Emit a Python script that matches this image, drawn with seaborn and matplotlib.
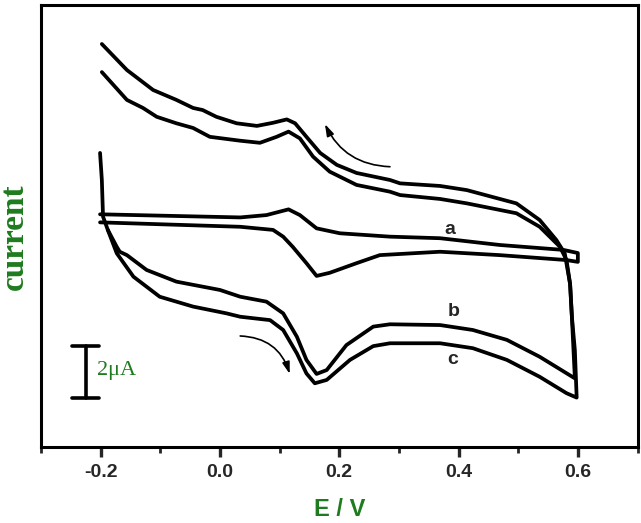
import numpy as np
import pandas as pd
import matplotlib
matplotlib.use("Agg")
import matplotlib.pyplot as plt
import seaborn as sns

# potential (V) and current (uA), one closed loop per curve
a_E = [-0.201, 0.034, 0.078, 0.115, 0.134, 0.162, 0.201, 0.285, 0.369, 0.469, 0.576,
       0.600, 0.600, 0.581, 0.469, 0.369, 0.268, 0.229, 0.184, 0.162, 0.145, 0.122,
       0.106, 0.089, 0.034, -0.201]
a_I = [8.95, 8.83, 8.92, 9.14, 8.92, 8.41, 8.22, 8.09, 8.03, 7.77, 7.58,
       7.46, 7.12, 7.19, 7.38, 7.51, 7.38, 7.07, 6.70, 6.58, 7.07, 7.70,
       8.09, 8.35, 8.47, 8.64]

b_E = [-0.198, -0.156, -0.129, -0.106, -0.073, -0.045, -0.017, 0.034, 0.067, 0.095,
       0.115, 0.134, 0.156, 0.184, 0.229, 0.285, 0.302, 0.369, 0.414, 0.497, 0.536,
       0.570, 0.581, 0.587, 0.590, 0.595, 0.536, 0.481, 0.424, 0.369, 0.285, 0.257,
       0.212, 0.179, 0.162, 0.145, 0.129, 0.106, 0.078, 0.034, 0.000, -0.073, -0.123,
       -0.156, -0.168, -0.173, -0.188]
b_I = [14.42, 13.35, 13.04, 12.70, 12.45, 12.27, 11.93, 11.78, 11.70, 11.93,
       12.13, 11.87, 11.17, 10.59, 10.08, 9.82, 9.69, 9.54, 9.37, 8.99, 8.47,
       7.70, 7.19, 6.27, 5.01, 2.64, 3.47, 4.12, 4.50, 4.69, 4.72, 4.63,
       3.92, 2.96, 2.81, 3.35, 4.24, 5.14, 5.59, 5.78, 6.04, 6.36, 6.81,
       7.38, 7.51, 7.70, 8.35]

c_E = [-0.198, -0.156, -0.112, -0.073, -0.045, -0.029, -0.006, 0.028, 0.062, 0.089,
       0.112, 0.126, 0.145, 0.168, 0.196, 0.229, 0.285, 0.302, 0.369, 0.414, 0.497,
       0.536, 0.564, 0.578, 0.581, 0.587, 0.590, 0.595, 0.598, 0.581, 0.536, 0.481,
       0.424, 0.369, 0.285, 0.257, 0.218, 0.179, 0.159, 0.145, 0.129, 0.106, 0.084,
       0.034, 0.011, -0.045, -0.101, -0.145, -0.173, -0.188, -0.196, -0.198, -0.201]
c_I = [15.50, 14.50, 13.73, 13.35, 13.04, 12.96, 12.70, 12.45, 12.35, 12.47,
       12.60, 12.45, 11.93, 11.31, 10.85, 10.54, 10.27, 10.14, 10.04, 9.88, 9.37,
       8.73, 7.96, 7.45, 7.05, 6.27, 5.01, 3.72, 1.90, 2.07, 2.70, 3.35,
       3.80, 3.99, 3.99, 3.88, 3.35, 2.58, 2.45, 2.83, 3.60, 4.50, 4.88,
       5.01, 5.14, 5.40, 5.78, 6.55, 7.45, 8.35, 8.86, 10.27, 11.31]

curve_names = ["a", "b", "c"]
label_E = [0.386, 0.391, 0.391]
label_I = [8.35, 5.20, 3.35]

xticks = [-0.2, 0.0, 0.2, 0.4, 0.6]
xtick_labels = ["-0.2", "0.0", "0.2", "0.4", "0.6"]
xticks_minor = [-0.3, -0.1, 0.1, 0.3, 0.5, 0.7]

scale_bar = 2.0  # uA
green = "#1e7b1e"

frames = []
for name, E, I in zip(curve_names, [a_E, b_E, c_E], [a_I, b_I, c_I]):
    frames.append(pd.DataFrame({"E": E, "I": I, "curve": name}))
df = pd.concat(frames, ignore_index=True)

sns.set_style("ticks")
plt.rcParams["font.family"] = ["Liberation Sans", "DejaVu Sans"]

fig = plt.figure(figsize=(6.41, 5.23), dpi=100)
ax = fig.add_axes([41 / 641, 76 / 523, 596.5 / 641, 442 / 523])

sns.lineplot(data=df, x="E", y="I", units="curve", estimator=None, sort=False,
             color="black", linewidth=2.7, ax=ax, legend=False)

for name, x, y in zip(curve_names, label_E, label_I):
    ax.text(x, y, name, ha="center", va="center", fontsize=14, fontweight="bold")

# sweep direction arrows
ax.annotate("", xy=(0.176, 12.42), xytext=(0.285, 10.78),
            arrowprops=dict(arrowstyle="-|>,head_length=0.7,head_width=0.22",
                            connectionstyle="arc3,rad=-0.3", lw=1.2, color="black",
                            shrinkA=0, shrinkB=0))
ax.annotate("", xy=(0.117, 2.81), xytext=(0.034, 4.27),
            arrowprops=dict(arrowstyle="-|>,head_length=0.7,head_width=0.22",
                            connectionstyle="arc3,rad=-0.35", lw=1.2, color="black",
                            shrinkA=0, shrinkB=0))

# 2 uA scale bar
bar_x, bar_lo = -0.225, 1.88
ax.plot([bar_x, bar_x], [bar_lo, bar_lo + scale_bar], color="black", lw=2.6)
for yy in [bar_lo, bar_lo + scale_bar]:
    ax.plot([bar_x - 0.023, bar_x + 0.023], [yy, yy], color="black", lw=2.6,
            solid_capstyle="round")
ax.text(-0.206, bar_lo + scale_bar / 2 + 0.05, "2\u03bcA", ha="left", va="center",
        fontsize=16, color=green, family=["Liberation Serif", "DejaVu Serif"])

ax.set_xlim(-0.3, 0.7)
ax.set_ylim(0, 17)
ax.set_xticks(xticks)
ax.set_xticklabels(xtick_labels, fontsize=14, fontweight="bold")
ax.set_xticks(xticks_minor, minor=True)
ax.set_yticks([])
ax.tick_params(axis="x", which="major", direction="out", length=7, width=2.4, pad=5)
ax.tick_params(axis="x", which="minor", direction="out", length=4.5, width=2.0)
for sp in ax.spines.values():
    sp.set_linewidth(2.2)
    sp.set_color("black")

ax.set_xlabel("E / V", fontsize=17, fontweight="bold", color=green)
ax.xaxis.set_label_coords(0.5, -0.115)
ax.set_ylabel("current", fontsize=24, fontweight="bold", color=green,
              family=["Liberation Serif", "DejaVu Serif"])
ax.yaxis.set_label_coords(-0.0184, 0.476)

fig.savefig("out.png", dpi=100)
